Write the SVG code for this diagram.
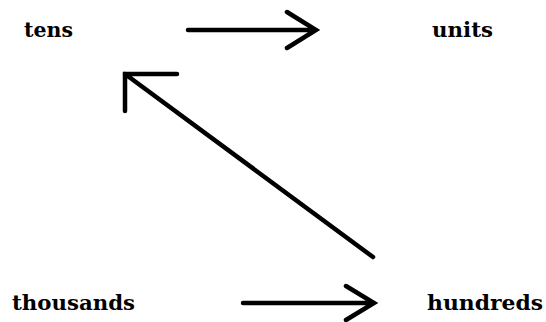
<svg xmlns="http://www.w3.org/2000/svg" width="546" height="322" viewBox="0 0 546 322">
<style>
.lbl{font-family:"DejaVu Serif","Liberation Serif",serif;font-weight:bold;font-size:20px;fill:#000}
.ln{fill:none;stroke:#000;stroke-width:4.5;stroke-linecap:round;stroke-linejoin:miter}
</style>
<rect width="546" height="322" fill="#fff"/>
<g id="tens"><text class="lbl" x="24" y="37" textLength="49" lengthAdjust="spacingAndGlyphs">tens</text></g>
<g id="units"><text class="lbl" x="432" y="37" textLength="61" lengthAdjust="spacingAndGlyphs">units</text></g>
<g id="thousands"><text class="lbl" x="12" y="310" textLength="123" lengthAdjust="spacingAndGlyphs">thousands</text></g>
<g id="hundreds"><text class="lbl" x="427" y="310" textLength="116" lengthAdjust="spacingAndGlyphs">hundreds</text></g>
<g id="connectors">
<path class="ln" d="M188 30H316M287 12L316 30L287 48"/>
<path class="ln" d="M243 303H374M346 286L374 303L346 320"/>
<path class="ln" d="M373 257L125 74M177 74H125V111"/>
</g>
</svg>
